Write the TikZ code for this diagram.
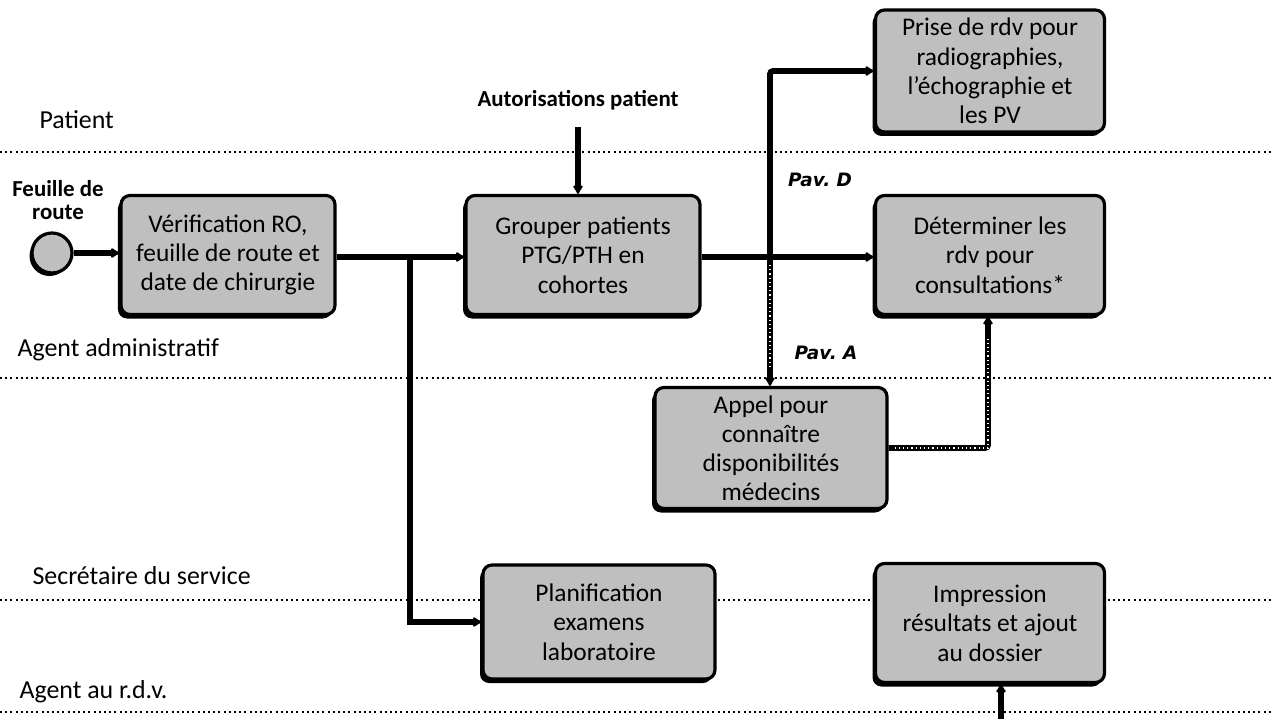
\documentclass[tikz,border=0pt]{standalone}
\usepackage{fontspec}
\setmainfont{Carlito}
\newfontfamily\pavfont{DejaVu Sans}
\usetikzlibrary{arrows.meta,shadows,calc}
\begin{document}
\begin{tikzpicture}[x=1bp,y=-1bp,
  task/.style={draw=black,line width=3.2bp,rounded corners=9bp,fill=black!25,
    align=center,inner sep=0pt,font=\fontsize{25.5}{29.5}\selectfont,
    drop shadow={shadow xshift=-3bp,shadow yshift=-4bp,opacity=1,fill=black}},
  lane/.style={line width=2.4bp,dash pattern=on 2bp off 3.2bp},
  lanelabel/.style={anchor=west,font=\fontsize{26}{28}\selectfont},
  flow/.style={line width=5.8bp,-{Latex[length=10bp,width=12bp,round]}},
  pav/.style={font=\pavfont\bfseries\itshape\fontsize{18.5}{20}\selectfont},
  tag/.style={font=\bfseries\fontsize{23}{25}\selectfont,align=center}]
\useasboundingbox[fill=white] (0,0) rectangle (1271,719);

% swimlane separators
\foreach \yy in {152,378,600,712}
  \draw[lane] (0,\yy) -- (1271,\yy);

% lane titles
\node[lanelabel] (lpat) at (36,120) {Patient};
\node[lanelabel] (ladm) at (14,350) {Agent administratif};
\node[lanelabel] (lsec) at (29,576) {Secrétaire du service};
\node[lanelabel] (lrdv) at (16,692) {Agent au r.d.v.};

% start event
\node[tag] (start) at (58,200) {Feuille de\\[-2bp]route};
\node[circle,draw=black,line width=3.2bp,fill=black!25,minimum size=40bp,inner sep=0pt,
  drop shadow={shadow xshift=-2.5bp,shadow yshift=-3bp,opacity=1,fill=black}] (c0) at (52,253) {};

% tasks
\node[task,minimum width=214bp,minimum height=119bp] (b1) at (228,255) {Vérification RO,\\feuille de route et\\date de chirurgie};
\node[task,minimum width=234bp,minimum height=119bp] (b2) at (583,255) {Grouper patients\\PTG/PTH en\\cohortes};
\node[task,minimum width=229bp,minimum height=122bp] (b3) at (990,71) {Prise de rdv pour\\radiographies,\\l’échographie et\\les PV};
\node[task,minimum width=229bp,minimum height=119bp] (b4) at (990,255) {Déterminer les\\rdv pour\\consultations*};
\node[task,minimum width=232bp,minimum height=121bp,font=\fontsize{25.5}{29}\selectfont] (b5) at (771,448) {Appel pour\\connaître\\disponibilités\\médecins};
\node[task,minimum width=232bp,minimum height=114bp] (b6) at (599,622) {Planification\\examens\\laboratoire};
\node[task,minimum width=229bp,minimum height=119bp] (b7) at (990,623) {Impression\\résultats et ajout\\au dossier};

% input label
\node[tag] (auth) at (578,100) {Autorisations patient};

% junctions
\coordinate (j1) at (410,257);
\coordinate (j2) at (770,257);
\coordinate (bot) at (1001,719);

% connectors
\draw[flow] (c0.east) -- (c0.east -| b1.west);
\draw[flow] (b1.east |- j1) -- (b2.west |- j1);
\draw[flow] (j1) |- (b6.west);
\draw[flow] (b2.east |- j2) -- (b4.west |- j2);
\draw[flow,rounded corners=3bp] (j2) |- (b3.west);
\draw[flow] ($(auth.south)+(0,14)$) -- (auth.south |- b2.north);
\draw[flow] (j2) -- (j2 |- b5.north);
\draw[white,line width=1.2bp,dash pattern=on 1.2bp off 3bp] ($(j2)+(0,8)$) -- ($(j2 |- b5.north)+(0,-16)$);
\draw[flow,rounded corners=3bp] (b5.east) -| ($(b4.south)+(-2,0)$);
\draw[white,line width=1.2bp,dash pattern=on 1.2bp off 3bp] ($(b5.east)+(6,0)$) -| ($(b4.south)+(-2,20)$);
\draw[flow] (bot) -- (bot |- b7.south);

% site labels
\node[pav] (pavd) at (820,180) {Pav.~D};
\node[pav] (pava) at (826,353) {Pav.~A};
\end{tikzpicture}
\end{document}
